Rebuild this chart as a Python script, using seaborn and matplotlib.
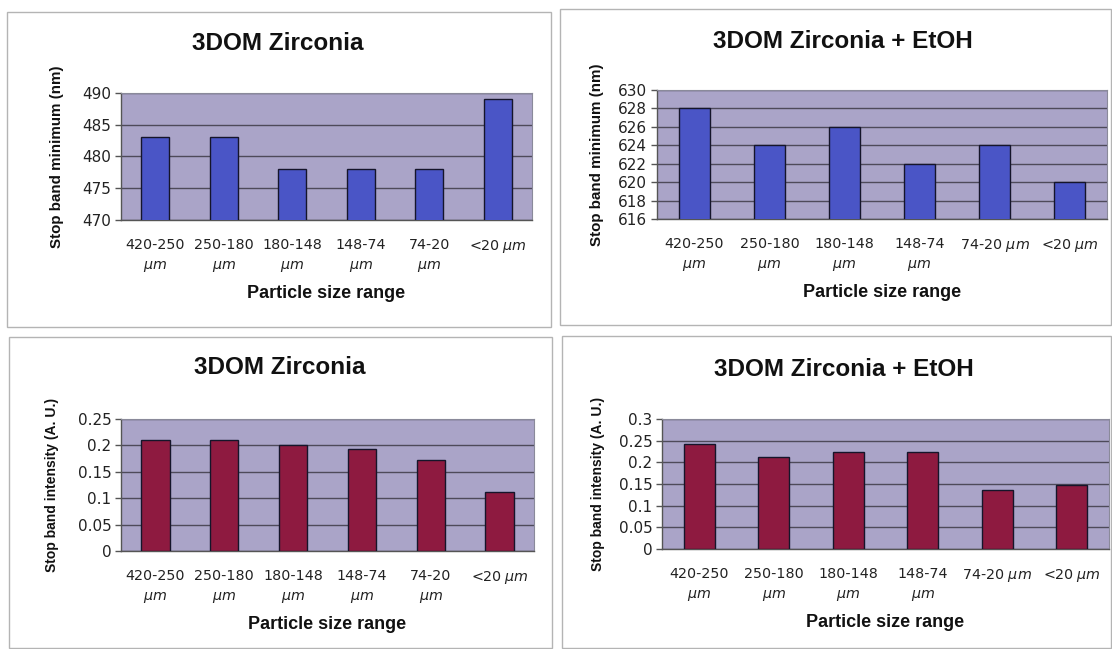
import matplotlib
matplotlib.use("Agg")
import matplotlib.pyplot as plt
import seaborn as sns
import pandas as pd
from matplotlib.patches import Rectangle

# ---- data ----
labels_a = ["420-250\n$\\mathit{\\mu m}$", "250-180\n$\\mathit{\\mu m}$", "180-148\n$\\mathit{\\mu m}$",
            "148-74\n$\\mathit{\\mu m}$", "74-20\n$\\mathit{\\mu m}$", "<20 $\\mathit{\\mu m}$"]
labels_b = ["420-250\n$\\mathit{\\mu m}$", "250-180\n$\\mathit{\\mu m}$", "180-148\n$\\mathit{\\mu m}$",
            "148-74\n$\\mathit{\\mu m}$", "74-20 $\\mathit{\\mu m}$", "<20 $\\mathit{\\mu m}$"]
min_zr = [483, 483, 478, 478, 478, 489]
min_zr_etoh = [628, 624, 626, 622, 624, 620]
int_zr = [0.211, 0.211, 0.201, 0.194, 0.173, 0.111]
int_zr_etoh = [0.242, 0.213, 0.223, 0.225, 0.137, 0.147]

titles = ["3DOM Zirconia", "3DOM Zirconia + EtOH", "3DOM Zirconia", "3DOM Zirconia + EtOH"]
ylabels = ["Stop band minimum (nm)", "Stop band minimum (nm)",
           "Stop band intensity (A. U.)", "Stop band intensity (A. U.)"]
xlabel = "Particle size range"
yticks_list = [[470, 475, 480, 485, 490],
               [616, 618, 620, 622, 624, 626, 628, 630],
               [0, 0.05, 0.1, 0.15, 0.2, 0.25],
               [0, 0.05, 0.1, 0.15, 0.2, 0.25, 0.3]]
yticklabels_list = [["470", "475", "480", "485", "490"],
                    ["616", "618", "620", "622", "624", "626", "628", "630"],
                    ["0", "0.05", "0.1", "0.15", "0.2", "0.25"],
                    ["0", "0.05", "0.1", "0.15", "0.2", "0.25", "0.3"]]

sns.set_theme(style="white")
plt.rcParams["font.family"] = ["DejaVu Sans"]
plt.rcParams["mathtext.fontset"] = "custom"
plt.rcParams["mathtext.it"] = "DejaVu Sans:italic"
plt.rcParams["mathtext.rm"] = "DejaVu Sans"

W, H = 1112, 649
fig = plt.figure(figsize=(W / 100, H / 100), dpi=100)
fig.patch.set_facecolor("white")

def px_axes(x0, y0, x1, y1):
    return fig.add_axes([x0 / W, 1 - y1 / H, (x1 - x0) / W, (y1 - y0) / H])

# panel frames (pixels: x0, y0, x1, y1)
frames = [(7, 12, 551, 327), (560, 9, 1111, 325), (9, 337, 552, 648), (562, 336, 1111, 648)]
for (x0, y0, x1, y1) in frames:
    fig.patches.append(Rectangle((x0 / W, 1 - y1 / H), (x1 - x0) / W, (y1 - y0) / H,
                                 transform=fig.transFigure, fill=False,
                                 edgecolor="#b4b4b4", linewidth=1.0))

axes_px = [(121, 93, 532, 220), (657, 90, 1107, 219), (121, 419, 534, 551), (662, 419, 1109, 549)]
datasets = [min_zr, min_zr_etoh, int_zr, int_zr_etoh]
label_sets = [labels_a, labels_b, labels_a, labels_b]
colors = ["#4a55c6", "#4a55c6", "#8e1a40", "#8e1a40"]
ylims = [(470, 490), (616, 630), (0, 0.25), (0, 0.3)]
title_pos = [(278, 43), (843, 42), (280, 368), (844, 370)]
ylabel_fs = [10.9, 10.9, 10, 10]
ylabel_pad = [13, 10, 13, 10]

for i in range(4):
    x0, y0, x1, y1 = axes_px[i]
    ax = px_axes(x0, y0, x1, y1)
    df = pd.DataFrame({"cat": label_sets[i], "val": datasets[i]})
    sns.barplot(data=df, x="cat", y="val", color=colors[i], width=0.41,
                edgecolor="#15152a", linewidth=1.0, saturation=1, ax=ax, zorder=3)
    ax.set_facecolor("#aaa4c8")
    ax.set_ylim(*ylims[i])
    ax.set_xlim(-0.5, 5.5)
    ax.set_yticks(yticks_list[i])
    ax.set_yticklabels(yticklabels_list[i], fontsize=11, color="#222222")
    ax.yaxis.grid(True, color="#4e4a5a", linewidth=1.0, zorder=1)
    ax.set_axisbelow(True)
    ax.set_xticks(range(6))
    ax.set_xticklabels(label_sets[i], fontsize=10.3, color="#222222", linespacing=1.5)
    ax.tick_params(axis="x", which="major", length=0, pad=13)
    ax.set_xticks([k + 0.5 for k in range(-1, 6)], minor=True)
    ax.tick_params(axis="x", which="minor", length=4, color="#555555", width=1, direction="out")
    ax.tick_params(axis="y", length=4, color="#555555", width=1, direction="out", left=True, pad=3)
    for s in ["top", "right"]:
        ax.spines[s].set_color("#8a8a9a")
        ax.spines[s].set_linewidth(0.8)
    for s in ["left", "bottom"]:
        ax.spines[s].set_color("#555555")
        ax.spines[s].set_linewidth(1.0)
    ax.set_xlabel(xlabel, fontsize=13, fontweight="bold", family="Liberation Sans",
                  labelpad=8, color="#111111")
    ax.set_ylabel(ylabels[i], fontsize=ylabel_fs[i], fontweight="bold", family="Liberation Sans",
                  labelpad=ylabel_pad[i], color="#111111")
    tx, ty = title_pos[i]
    fig.text(tx / W, 1 - ty / H, titles[i],
             ha="center", va="center", fontsize=17.5, fontweight="bold",
             family="Liberation Sans", color="#111111")

fig.savefig("out.png", dpi=100)
